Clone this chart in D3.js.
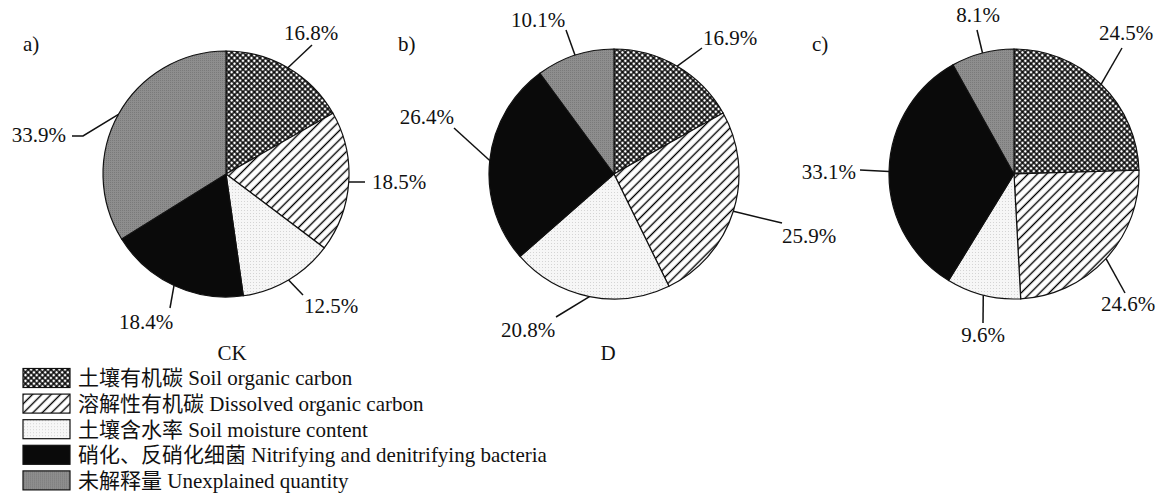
<!DOCTYPE html>
<html>
<head>
<meta charset="utf-8">
<script src="https://cdn.jsdelivr.net/npm/d3@7"></script>
<style>
  body { margin: 0; background: #fff; }
  text { font-family: "Liberation Serif", "Times New Roman", "Noto Sans CJK SC", serif; fill: #111; }
</style>
</head>
<body>
<div class="graph"></div>
<script>
/*--------------- DATA -------------*/

const categories = ["土壤有机碳 Soil organic carbon",
                    "溶解性有机碳 Dissolved organic carbon",
                    "土壤含水率 Soil moisture content",
                    "硝化、反硝化细菌 Nitrifying and denitrifying bacteria",
                    "未解释量 Unexplained quantity"];

const panels = ["a)", "b)", "c)"];
const titles = ["CK", "D", ""];

const valuesCK = [16.8, 18.5, 12.5, 18.4, 33.9];
const valuesD  = [16.9, 25.9, 20.8, 26.4, 10.1];
const valuesC  = [24.5, 24.6, 9.6, 33.1, 8.1];

/*--------------- LAYOUT -------------*/

const SIZE = {X: 1157, Y: 494};
const FONT = 21;
const PIES = [
    {cx: 226, cy: 174, r: 123, panel: {x: 23, y: 44}, title: {x: 232, y: 353}},
    {cx: 614, cy: 174, r: 125, panel: {x: 398, y: 44}, title: {x: 608, y: 353}},
    {cx: 1014, cy: 174, r: 125, panel: {x: 812, y: 44}, title: null}
];

// leader line points and label spot, relative to each pie centre (hand placed like the original)
const LABELS = [
    [ {pts: [[86,-129]], t: [85,-141], a: "middle"},
      {pts: [[139,8]], t: [146,8], a: "start"},
      {pts: [[77,121]], t: [78,132], a: "start"},
      {pts: [[-56,134]], t: [-80,148], a: "middle"},
      {pts: [[-143,-38],[-154,-38]], t: [-160,-39], a: "end"} ],
    [ {pts: [[88,-126]], t: [89,-136], a: "start"},
      {pts: [[168,49]], t: [168,62], a: "start"},
      {pts: [[-58,143]], t: [-86,156], a: "middle"},
      {pts: [[-160,-46]], t: [-160,-57], a: "end"},
      {pts: [[-48,-144]], t: [-76,-154], a: "middle"} ],
    [ {pts: [[108,-126]], t: [112,-141], a: "middle"},
      {pts: [[111,119]], t: [114,130], a: "middle"},
      {pts: [[-31,149]], t: [-31,161], a: "middle"},
      {pts: [[-154,-4]], t: [-158,-2], a: "end"},
      {pts: [[-37,-144]], t: [-36,-159], a: "middle"} ]
];

const LEGEND = {X: 23, Y: 378, STEP: 25.6, W: 47, H: 19, TEXT_X: 78};

const svg = d3.select(".graph").append("svg")
    .attr("width", SIZE.X)
    .attr("height", SIZE.Y);

/*--------------- PATTERNS -------------*/

const defs = svg.append("defs");

//cross hatch for soil organic carbon
const cross = defs.append("pattern")
    .attr("id", "cross")
    .attr("patternUnits", "userSpaceOnUse")
    .attr("width", 4).attr("height", 4)
    .attr("patternTransform", "rotate(45)");
cross.append("rect").attr("width", 4).attr("height", 4).attr("fill", "#fff");
cross.append("path").attr("d", "M0,2H4M2,0V4")
    .attr("stroke", "#000").attr("stroke-width", 1.5);

//diagonal lines for dissolved organic carbon
const diag = defs.append("pattern")
    .attr("id", "diag")
    .attr("patternUnits", "userSpaceOnUse")
    .attr("width", 6.6).attr("height", 6.6)
    .attr("patternTransform", "rotate(-45)");
diag.append("rect").attr("width", 6.6).attr("height", 6.6).attr("fill", "#fff");
diag.append("path").attr("d", "M0,3.3H6.6")
    .attr("stroke", "#000").attr("stroke-width", 1.4);

//light dots for soil moisture
const dots = defs.append("pattern")
    .attr("id", "dots")
    .attr("patternUnits", "userSpaceOnUse")
    .attr("width", 3).attr("height", 3);
dots.append("rect").attr("width", 3).attr("height", 3).attr("fill", "#f6f6f6");
dots.append("rect").attr("width", 1).attr("height", 1).attr("fill", "#d4d4d4");

//fine grey texture for unexplained
const grey = defs.append("pattern")
    .attr("id", "grey")
    .attr("patternUnits", "userSpaceOnUse")
    .attr("width", 2).attr("height", 2);
grey.append("rect").attr("width", 2).attr("height", 2).attr("fill", "#8e8e8e");
grey.append("rect").attr("width", 1).attr("height", 1).attr("fill", "#7a7a7a");

const fills = ["url(#cross)", "url(#diag)", "url(#dots)", "#0a0a0a", "url(#grey)"];

/*--------------- PIES -------------*/

const pie = d3.pie().sort(null).value(d => d);

[valuesCK, valuesD, valuesC].forEach((values, i) => {
    const P = PIES[i];
    const g = svg.append("g")
        .attr("transform", `translate(${P.cx}, ${P.cy})`);

    const arc = d3.arc().innerRadius(0).outerRadius(P.r);
    const rim = d3.arc().innerRadius(P.r).outerRadius(P.r);
    const arcs = pie(values);

    g.selectAll("path.slice")
        .data(arcs)
        .enter()
            .append("path")
            .attr("class", "slice")
            .attr("d", arc)
            .attr("fill", (d, j) => fills[j])
            .attr("stroke", "#111")
            .attr("stroke-width", 1.2);

    //leader lines
    g.selectAll("polyline")
        .data(arcs)
        .enter()
            .append("polyline")
            .attr("points", (d, j) => [rim.centroid(d)].concat(LABELS[i][j].pts).join(" "))
            .attr("fill", "none")
            .attr("stroke", "#111")
            .attr("stroke-width", 1.5);

    g.selectAll("text.pct")
        .data(arcs)
        .enter()
            .append("text")
            .attr("class", "pct")
            .attr("x", (d, j) => LABELS[i][j].t[0])
            .attr("y", (d, j) => LABELS[i][j].t[1])
            .attr("dy", "0.35em")
            .attr("text-anchor", (d, j) => LABELS[i][j].a)
            .attr("font-size", FONT)
            .text(d => d.value.toFixed(1) + "%");

    svg.append("text")
        .attr("x", P.panel.x)
        .attr("y", P.panel.y)
        .attr("dy", "0.35em")
        .attr("font-size", FONT)
        .text(panels[i]);

    if (P.title) {
        svg.append("text")
            .attr("x", P.title.x)
            .attr("y", P.title.y)
            .attr("dy", "0.35em")
            .attr("text-anchor", "middle")
            .attr("font-size", FONT)
            .text(titles[i]);
    }
});

/*--------------- LEGEND -------------*/

const legend = svg.append("g");

const rows = legend.selectAll("g")
    .data(categories)
    .enter()
        .append("g")
        .attr("transform", (d, j) => `translate(0, ${LEGEND.Y + j * LEGEND.STEP})`);

rows.append("rect")
    .attr("x", LEGEND.X)
    .attr("y", -LEGEND.H / 2)
    .attr("width", LEGEND.W)
    .attr("height", LEGEND.H)
    .attr("fill", (d, j) => fills[j])
    .attr("stroke", "#111")
    .attr("stroke-width", 1.2);

rows.append("text")
    .attr("x", LEGEND.TEXT_X)
    .attr("dy", "0.35em")
    .attr("font-size", FONT)
    .text(d => d);
</script>
</body>
</html>
